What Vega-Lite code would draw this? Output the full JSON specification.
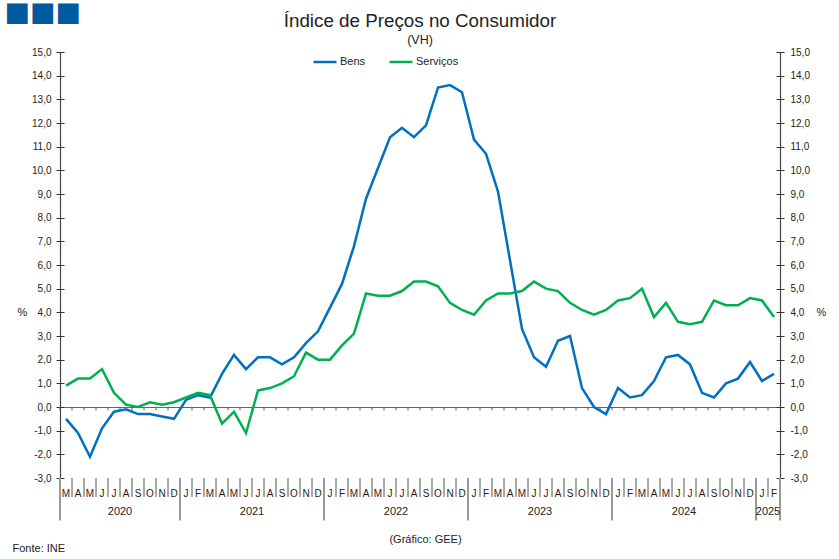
{
  "$schema": "https://vega.github.io/schema/vega-lite/v6.json",
  "width": 720,
  "height": 426,
  "autosize": {"type": "none"},
  "padding": {"left": 60, "top": 52, "right": 59, "bottom": 81},
  "background": "white",
  "config": {
    "font": "Liberation Sans",
    "view": {"stroke": null},
    "axis": {"labelFont": "Liberation Sans", "titleFont": "Liberation Sans", "labelColor": "#222", "titleColor": "#222", "titleFontWeight": "normal", "grid": false}
  },
  "title": {
    "text": "Índice de Preços no Consumidor",
    "subtitle": "(VH)",
    "fontSize": 18.8,
    "fontWeight": "normal",
    "color": "#222",
    "subtitleFontSize": 12.5,
    "subtitleColor": "#222",
    "subtitlePadding": 3,
    "anchor": "middle",
    "frame": "group",
    "offset": -48.5
  },
  "datasets": {
    "ipc": [
      {"m": "2020-03", "Bens": -0.5, "Serviços": 0.9},
      {"m": "2020-04", "Bens": -1.1, "Serviços": 1.2},
      {"m": "2020-05", "Bens": -2.1, "Serviços": 1.2},
      {"m": "2020-06", "Bens": -0.9, "Serviços": 1.6},
      {"m": "2020-07", "Bens": -0.2, "Serviços": 0.6},
      {"m": "2020-08", "Bens": -0.1, "Serviços": 0.1},
      {"m": "2020-09", "Bens": -0.3, "Serviços": 0.0},
      {"m": "2020-10", "Bens": -0.3, "Serviços": 0.2},
      {"m": "2020-11", "Bens": -0.4, "Serviços": 0.1},
      {"m": "2020-12", "Bens": -0.5, "Serviços": 0.2},
      {"m": "2021-01", "Bens": 0.3, "Serviços": 0.4},
      {"m": "2021-02", "Bens": 0.5, "Serviços": 0.6},
      {"m": "2021-03", "Bens": 0.4, "Serviços": 0.5},
      {"m": "2021-04", "Bens": 1.4, "Serviços": -0.7},
      {"m": "2021-05", "Bens": 2.2, "Serviços": -0.2},
      {"m": "2021-06", "Bens": 1.6, "Serviços": -1.1},
      {"m": "2021-07", "Bens": 2.1, "Serviços": 0.7},
      {"m": "2021-08", "Bens": 2.1, "Serviços": 0.8},
      {"m": "2021-09", "Bens": 1.8, "Serviços": 1.0},
      {"m": "2021-10", "Bens": 2.1, "Serviços": 1.3},
      {"m": "2021-11", "Bens": 2.7, "Serviços": 2.3},
      {"m": "2021-12", "Bens": 3.2, "Serviços": 2.0},
      {"m": "2022-01", "Bens": 4.2, "Serviços": 2.0},
      {"m": "2022-02", "Bens": 5.2, "Serviços": 2.6},
      {"m": "2022-03", "Bens": 6.8, "Serviços": 3.1},
      {"m": "2022-04", "Bens": 8.8, "Serviços": 4.8},
      {"m": "2022-05", "Bens": 10.1, "Serviços": 4.7},
      {"m": "2022-06", "Bens": 11.4, "Serviços": 4.7},
      {"m": "2022-07", "Bens": 11.8, "Serviços": 4.9},
      {"m": "2022-08", "Bens": 11.4, "Serviços": 5.3},
      {"m": "2022-09", "Bens": 11.9, "Serviços": 5.3},
      {"m": "2022-10", "Bens": 13.5, "Serviços": 5.1},
      {"m": "2022-11", "Bens": 13.6, "Serviços": 4.4},
      {"m": "2022-12", "Bens": 13.3, "Serviços": 4.1},
      {"m": "2023-01", "Bens": 11.3, "Serviços": 3.9},
      {"m": "2023-02", "Bens": 10.7, "Serviços": 4.5},
      {"m": "2023-03", "Bens": 9.1, "Serviços": 4.8},
      {"m": "2023-04", "Bens": 6.2, "Serviços": 4.8},
      {"m": "2023-05", "Bens": 3.3, "Serviços": 4.9},
      {"m": "2023-06", "Bens": 2.1, "Serviços": 5.3},
      {"m": "2023-07", "Bens": 1.7, "Serviços": 5.0},
      {"m": "2023-08", "Bens": 2.8, "Serviços": 4.9},
      {"m": "2023-09", "Bens": 3.0, "Serviços": 4.4},
      {"m": "2023-10", "Bens": 0.8, "Serviços": 4.1},
      {"m": "2023-11", "Bens": 0.0, "Serviços": 3.9},
      {"m": "2023-12", "Bens": -0.3, "Serviços": 4.1},
      {"m": "2024-01", "Bens": 0.8, "Serviços": 4.5},
      {"m": "2024-02", "Bens": 0.4, "Serviços": 4.6},
      {"m": "2024-03", "Bens": 0.5, "Serviços": 5.0},
      {"m": "2024-04", "Bens": 1.1, "Serviços": 3.8},
      {"m": "2024-05", "Bens": 2.1, "Serviços": 4.4},
      {"m": "2024-06", "Bens": 2.2, "Serviços": 3.6},
      {"m": "2024-07", "Bens": 1.8, "Serviços": 3.5},
      {"m": "2024-08", "Bens": 0.6, "Serviços": 3.6},
      {"m": "2024-09", "Bens": 0.4, "Serviços": 4.5},
      {"m": "2024-10", "Bens": 1.0, "Serviços": 4.3},
      {"m": "2024-11", "Bens": 1.2, "Serviços": 4.3},
      {"m": "2024-12", "Bens": 1.9, "Serviços": 4.6},
      {"m": "2025-01", "Bens": 1.1, "Serviços": 4.5},
      {"m": "2025-02", "Bens": 1.4, "Serviços": 3.8}
    ],
    "separadores": [{"m": "2020-03"}, {"m": "2021-01"}, {"m": "2022-01"}, {"m": "2023-01"}, {"m": "2024-01"}, {"m": "2025-01"}],
    "fim": [{"m": "2025-02"}],
    "anos": [{"m": "2020-07", "ano": "2020"}, {"m": "2021-06", "ano": "2021"}, {"m": "2022-06", "ano": "2022"}, {"m": "2023-06", "ano": "2023"}, {"m": "2024-06", "ano": "2024"}, {"m": "2025-01", "ano": "2025"}]
  },
  "layer": [
    {
      "data": {"name": "ipc"},
      "mark": {"type": "rule", "color": "#555", "strokeWidth": 1},
      "encoding": {
        "x": {"field": "m", "type": "ordinal", "bandPosition": 0, "axis": null},
        "y": {"datum": 0, "type": "quantitative", "axis": null},
        "y2": {"datum": -0.14}
      }
    },
    {
      "data": {"name": "ipc"},
      "mark": {"type": "rule", "color": "#555", "strokeWidth": 1},
      "encoding": {
        "x": {"field": "m", "type": "ordinal", "bandPosition": 0, "axis": null},
        "y": {"datum": -3, "type": "quantitative", "axis": null},
        "y2": {"datum": -3.8}
      }
    },
    {
      "data": {"name": "separadores"},
      "mark": {"type": "rule", "color": "#999", "strokeWidth": 2},
      "encoding": {
        "x": {"field": "m", "type": "ordinal", "bandPosition": 0, "axis": null},
        "y": {"datum": -3, "type": "quantitative", "axis": null},
        "y2": {"datum": -4.8}
      }
    },
    {
      "data": {"name": "fim"},
      "mark": {"type": "rule", "color": "#999", "strokeWidth": 2},
      "encoding": {
        "x": {"field": "m", "type": "ordinal", "bandPosition": 1, "axis": null},
        "y": {"datum": -3, "type": "quantitative", "axis": null},
        "y2": {"datum": -4.8}
      }
    },
    {
      "data": {"name": "ipc"},
      "transform": [{"fold": ["Bens", "Serviços"], "as": ["serie", "valor"]}],
      "mark": {"type": "line", "strokeWidth": 2.5},
      "encoding": {
        "x": {
          "field": "m", "type": "ordinal",
          "scale": {"type": "band", "paddingInner": 0, "paddingOuter": 0},
          "axis": {
            "orient": "bottom", "domain": false, "ticks": true, "tickOpacity": 0,
            "tickSize": 18, "labelAngle": 0, "labelOverlap": false,
            "labelFontSize": 10, "labelPadding": 0, "labelBaseline": "alphabetic", "labelOffset": 0,
            "labelExpr": "substring('JFMAMJJASOND', toNumber(slice(datum.value, 5)) - 1, toNumber(slice(datum.value, 5)))",
            "title": "(Gráfico: GEE)", "titleFontSize": 11, "titleX": 365, "titleY": 61,
            "titleBaseline": "middle", "titleAlign": "center"
          }
        },
        "y": {
          "field": "valor", "type": "quantitative",
          "scale": {"domain": [-3, 15], "nice": false, "zero": false},
          "axis": {
            "orient": "left", "values": [-3, -2, -1, 0, 1, 2, 3, 4, 5, 6, 7, 8, 9, 10, 11, 12, 13, 14, 15],
            "labelExpr": "replace(replace(format(datum.value, '.1f'), '.', ','), '−', '-')",
            "labelFontSize": 10, "labelPadding": 5, "tickSize": 4, "tickColor": "#333",
            "domainColor": "#444", "domainWidth": 1.2,
            "title": "%", "titleAngle": 0, "titleX": -38, "titleY": 260,
            "titleAlign": "center", "titleBaseline": "middle", "titleFontSize": 11
          }
        },
        "color": {
          "field": "serie", "type": "nominal",
          "scale": {"domain": ["Bens", "Serviços"], "range": ["#0070c0", "#00b050"]},
          "legend": {
            "title": null, "orient": "none", "legendX": 252, "legendY": -3,
            "direction": "horizontal", "symbolType": "stroke", "symbolSize": 529,
            "symbolStrokeWidth": 2.5, "labelFontSize": 11, "labelColor": "#222",
            "labelOffset": 2, "columnPadding": 18, "padding": 0
          }
        }
      }
    },
    {
      "data": {"name": "ipc"},
      "transform": [{"fold": ["Bens", "Serviços"], "as": ["serie", "valor"]}],
      "mark": {"type": "point", "opacity": 0},
      "encoding": {
        "x": {
          "field": "m", "type": "ordinal",
          "axis": {
            "orient": "bottom", "offset": -71, "domain": true, "domainColor": "#666",
            "ticks": false, "labels": false,
            "title": "■■■", "titleColor": "#005a9e", "titleFont": "DejaVu Sans", "titleFontSize": 27,
            "titleX": -56, "titleY": -395, "titleAlign": "left", "titleBaseline": "middle", "titleAngle": 0
          }
        },
        "y": {
          "field": "valor", "type": "quantitative",
          "axis": {
            "orient": "right", "values": [-3, -2, -1, 0, 1, 2, 3, 4, 5, 6, 7, 8, 9, 10, 11, 12, 13, 14, 15],
            "labelExpr": "replace(replace(format(datum.value, '.1f'), '.', ','), '−', '-')",
            "labelFontSize": 10, "labelPadding": 6, "tickSize": 4, "tickColor": "#333",
            "domainColor": "#444", "domainWidth": 1.2,
            "title": "%", "titleAngle": 0, "titleX": 41, "titleY": 260,
            "titleAlign": "center", "titleBaseline": "middle", "titleFontSize": 11
          }
        }
      }
    },
    {
      "data": {"name": "ipc"},
      "transform": [{"fold": ["Bens", "Serviços"], "as": ["serie", "valor"]}],
      "mark": {"type": "point", "opacity": 0},
      "encoding": {
        "x": {"field": "m", "type": "ordinal", "axis": null},
        "y": {
          "field": "valor", "type": "quantitative",
          "axis": {
            "orient": "right", "offset": -720, "values": [-3, -2, -1, 0, 1, 2, 3, 4, 5, 6, 7, 8, 9, 10, 11, 12, 13, 14, 15],
            "domain": false, "labels": false, "tickSize": 4, "tickColor": "#333", "title": null
          }
        }
      }
    },
    {
      "data": {"name": "ipc"},
      "transform": [{"fold": ["Bens", "Serviços"], "as": ["serie", "valor"]}],
      "mark": {"type": "point", "opacity": 0},
      "encoding": {
        "x": {"field": "m", "type": "ordinal", "axis": null},
        "y": {
          "field": "valor", "type": "quantitative",
          "axis": {
            "orient": "left", "offset": -720, "values": [-3, -2, -1, 0, 1, 2, 3, 4, 5, 6, 7, 8, 9, 10, 11, 12, 13, 14, 15],
            "domain": false, "labels": false, "tickSize": 4, "tickColor": "#333", "title": null
          }
        }
      }
    },
    {
      "data": {"name": "anos"},
      "mark": {"type": "text", "fontSize": 11, "color": "#222", "baseline": "middle", "align": "center"},
      "encoding": {
        "x": {"field": "m", "type": "ordinal", "bandPosition": 1, "axis": {"orient": "bottom", "domain": false, "ticks": false, "labels": false, "title": "Fonte: INE", "titleFontSize": 11, "titleX": -48, "titleY": 70, "titleAlign": "left", "titleBaseline": "middle"}},
        "y": {"datum": -4.45, "type": "quantitative", "axis": null},
        "text": {"field": "ano"}
      }
    }
  ],
  "resolve": {"axis": {"x": "independent", "y": "independent"}}
}
